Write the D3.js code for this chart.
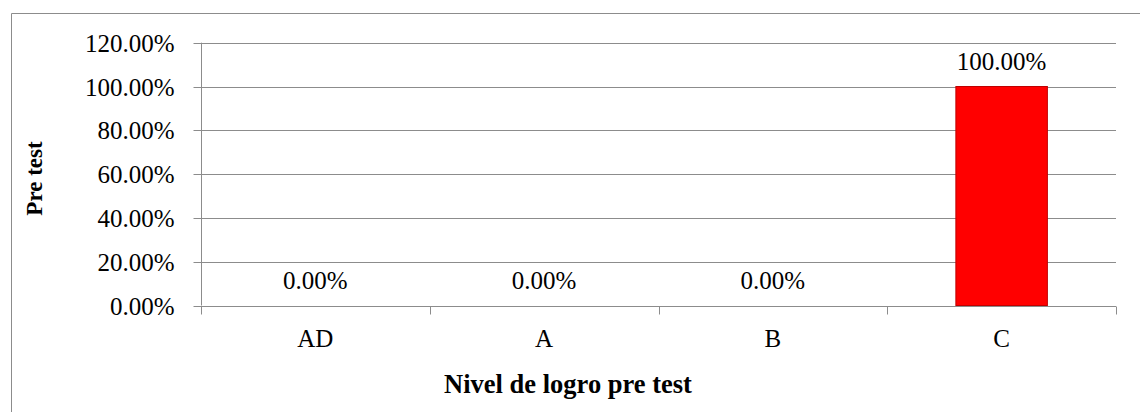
<!DOCTYPE html>
<html>
<head>
<meta charset="utf-8">
<script src="https://cdn.jsdelivr.net/npm/d3@7"></script>
<style>
  html, body { margin: 0; padding: 0; background: #fff; }
  svg { display: block; }
  text { font-family: "Liberation Serif", "Times New Roman", serif; fill: #000; }
</style>
</head>
<body>
<svg id="chart" width="1140" height="412"></svg>
<script>
// Achievement levels and their share of students in the pre test
const categories = ["AD", "A", "B", "C"];
const values = [0, 0, 0, 1];
const yTicks = [0, 0.2, 0.4, 0.6, 0.8, 1.0, 1.2];
const xTitle = "Nivel de logro pre test";
const yTitle = "Pre test";

const svg = d3.select("#chart");
const W = 1140, H = 412;
const plot = { left: 201, right: 1116, top: 42.7, bottom: 305.5 };
const gray = "#8c8c8c";
const fontSize = 25;

// chart frame (top and left edges visible)
svg.append("path")
  .attr("d", `M11.5,${H} L11.5,13.5 L${W},13.5`)
  .attr("fill", "none").attr("stroke", gray).attr("stroke-width", 1);

const x = d3.scaleBand().domain(categories).range([plot.left, plot.right]).paddingInner(0).paddingOuter(0);
const y = d3.scaleLinear().domain([0, 1.2]).range([plot.bottom, plot.top]);
const fmt = d => (d * 100).toFixed(2) + "%";

// horizontal gridlines
svg.append("g").selectAll("line").data(yTicks.filter(t => t > 0)).join("line")
  .attr("x1", plot.left).attr("x2", plot.right)
  .attr("y1", d => Math.round(y(d)) + 0.5).attr("y2", d => Math.round(y(d)) + 0.5)
  .attr("stroke", gray).attr("stroke-width", 1);

// y axis
const yAxis = svg.append("g")
  .attr("transform", `translate(${plot.left + 0.5},0)`)
  .call(d3.axisLeft(y).tickValues(yTicks).tickFormat(fmt).tickSize(8).tickPadding(19));
yAxis.attr("font-family", null);
yAxis.select(".domain").attr("stroke", gray).attr("d", `M-0,${plot.bottom}V${plot.top}`);
yAxis.selectAll(".tick line").attr("stroke", gray);
yAxis.selectAll(".tick").attr("transform", d => `translate(0,${Math.round(y(d)) + 0.5})`);
yAxis.selectAll(".tick text").attr("font-size", fontSize).attr("dy", "0.34em");

// bars
svg.append("g").selectAll("rect").data(categories).join("rect")
  .attr("x", d => x(d) + x.bandwidth() * 0.3)
  .attr("width", x.bandwidth() * 0.4)
  .attr("y", (d, i) => y(values[i]))
  .attr("height", (d, i) => y(0) - y(values[i]))
  .attr("fill", "#ff0000")
  .attr("stroke", "#c00000")
  .attr("stroke-width", 1)
  .attr("display", (d, i) => values[i] > 0 ? null : "none");

// x axis with ticks at category boundaries
const xAxisY = Math.round(y(0)) + 0.5;
svg.append("line")
  .attr("x1", plot.left).attr("x2", plot.right)
  .attr("y1", xAxisY).attr("y2", xAxisY)
  .attr("stroke", gray);
const bounds = categories.map(c => x(c)).concat([plot.right]);
svg.append("g").selectAll("line").data(bounds).join("line")
  .attr("x1", d => Math.round(d) + 0.5).attr("x2", d => Math.round(d) + 0.5)
  .attr("y1", xAxisY).attr("y2", xAxisY + 8)
  .attr("stroke", gray);
svg.append("g").selectAll("text").data(categories).join("text")
  .attr("x", d => x(d) + x.bandwidth() / 2)
  .attr("y", 347)
  .attr("text-anchor", "middle")
  .attr("font-size", fontSize)
  .text(d => d);

// value labels above each bar
svg.append("g").selectAll("text").data(categories).join("text")
  .attr("x", d => x(d) + x.bandwidth() / 2)
  .attr("y", (d, i) => y(values[i]) - 17)
  .attr("text-anchor", "middle")
  .attr("font-size", fontSize)
  .text((d, i) => fmt(values[i]));

// axis titles
svg.append("text")
  .attr("x", 568).attr("y", 393)
  .attr("text-anchor", "middle")
  .attr("font-size", 26.5).attr("font-weight", "bold")
  .text(xTitle);
svg.append("text")
  .attr("transform", `translate(42,178.5) rotate(-90)`)
  .attr("text-anchor", "middle")
  .attr("font-size", 23).attr("font-weight", "bold")
  .text(yTitle);
</script>
</body>
</html>
